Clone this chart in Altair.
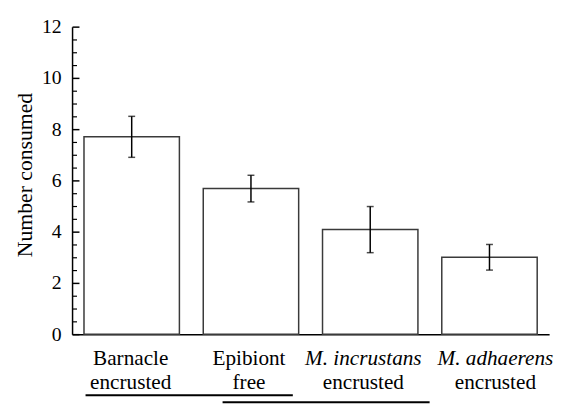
import altair as alt
import pandas as pd

# ---- data ----
categories = ["Barnacle encrusted", "Epibiont free",
              "M. incrustans encrusted", "M. adhaerens encrusted"]
label_line1 = ["Barnacle", "Epibiont", "M. incrustans", "M. adhaerens"]
label_line2 = ["encrusted", "free", "encrusted", "encrusted"]
italic_first = [False, False, True, True]
means = [7.7, 5.68, 4.08, 3.0]
errors = [0.8, 0.52, 0.9, 0.5]

major_ticks = [0, 2, 4, 6, 8, 10, 12]
minor_ticks = [0.5, 1, 1.5, 2.5, 3, 3.5, 4.5, 5, 5.5, 6.5, 7, 7.5,
               8.5, 9, 9.5, 10.5, 11, 11.5]

# significance underlines, in category-slot units (slot i spans i..i+1)
line_start = [0.113, 1.262]
line_end = [1.851, 2.998]
line_level = [374, 381]

df = pd.DataFrame({
    "cat": categories,
    "line1": label_line1,
    "line2": label_line2,
    "italic": italic_first,
    "mean": means,
    "err": errors,
})
df["upper"] = df["mean"] + df["err"]
df["lower"] = df["mean"] - df["err"]

lines_df = pd.DataFrame({"start": line_start, "end": line_end, "level": line_level})

FONT = "'Liberation Serif', 'Times New Roman', Times, 'DejaVu Serif', serif"
W, H = 484, 312

x_scale = alt.Scale(domain=categories, paddingInner=0.2, paddingOuter=0.1)
x_axis = alt.Axis(labels=False, ticks=False, domain=True, domainColor="black",
                  domainWidth=1.5, title=None, grid=False)


def xenc(field="cat"):
    return alt.X(f"{field}:N", sort=categories, scale=x_scale, axis=x_axis, title=None)


y_scale = alt.Scale(domain=[0, 12], nice=False, zero=True)

base = alt.Chart(df)

bars = base.mark_bar(fill="white", stroke="#3a3a3a", strokeWidth=1.5).encode(
    x=xenc(),
    y=alt.Y("mean:Q", scale=y_scale,
            axis=alt.Axis(values=major_ticks, ticks=False, labelFontSize=20,
                          labelFont=FONT, labelColor="black", labelPadding=11,
                          domainColor="black", domainWidth=1.5, grid=False,
                          title="Number consumed", titleFont=FONT,
                          titleFontSize=22, titleFontWeight="normal",
                          titleColor="black", titleAngle=270, titleX=-41,
                          titleY=150, titleBaseline="alphabetic",
                          titleAlign="center")),
)

err_rule = base.mark_rule(color="black", strokeWidth=1.5).encode(
    x=xenc(),
    y=alt.Y("upper:Q", scale=y_scale,
            axis=alt.Axis(orient="right", offset=-W, values=major_ticks,
                          labels=False, domain=False, tickSize=7, tickWidth=1.5,
                          tickColor="black", title=None, grid=False)),
    y2="lower:Q",
)

cap_up = base.mark_tick(color="black", thickness=1.5, size=7, orient="horizontal").encode(
    x=xenc(),
    y=alt.Y("upper:Q", scale=y_scale,
            axis=alt.Axis(orient="right", offset=-W, values=minor_ticks,
                          labels=False, domain=False, tickSize=4.5, tickWidth=1.2,
                          tickColor="black", title=None, grid=False)),
)

cap_lo = base.mark_tick(color="black", thickness=1.5, size=7, orient="horizontal").encode(
    x=xenc(),
    y=alt.Y("lower:Q", scale=y_scale, axis=None),
)

# small horizontal nudges of the category labels, as in the reference
label_nudge = {"Barnacle encrusted": -1, "Epibiont free": -2,
               "M. incrustans encrusted": -7, "M. adhaerens encrusted": 6}

text_layers = []
for cat, it in zip(categories, italic_first):
    sub = base.transform_filter(alt.datum.cat == cat)
    common = dict(font=FONT, fontSize=21.5, color="black", baseline="alphabetic",
                  align="center", dx=label_nudge[cat])
    text_layers.append(
        sub.mark_text(fontStyle="italic" if it else "normal", **common).encode(
            x=xenc(), y=alt.value(343), text="line1:N"))
    text_layers.append(
        sub.mark_text(**common).encode(x=xenc(), y=alt.value(368), text="line2:N"))

main = alt.layer(bars, err_rule, cap_up, cap_lo, *text_layers).resolve_axis(
    y="independent")

under = alt.Chart(lines_df).mark_rule(color="black", strokeWidth=2).encode(
    x=alt.X("start:Q", scale=alt.Scale(domain=[0, len(categories)], nice=False, zero=False),
            axis=None),
    x2="end:Q",
    y=alt.Y("level:Q", scale=None, axis=None),
)

chart = alt.layer(main, under).resolve_scale(x="independent", y="independent").properties(
    width=W, height=H,
    autosize=alt.AutoSizeParams(type="none"),
    padding={"left": 65, "top": 16, "right": 8, "bottom": 72},
).configure_view(stroke=None)

chart.save("out.html", embed_options={"renderer": "svg", "actions": False})
